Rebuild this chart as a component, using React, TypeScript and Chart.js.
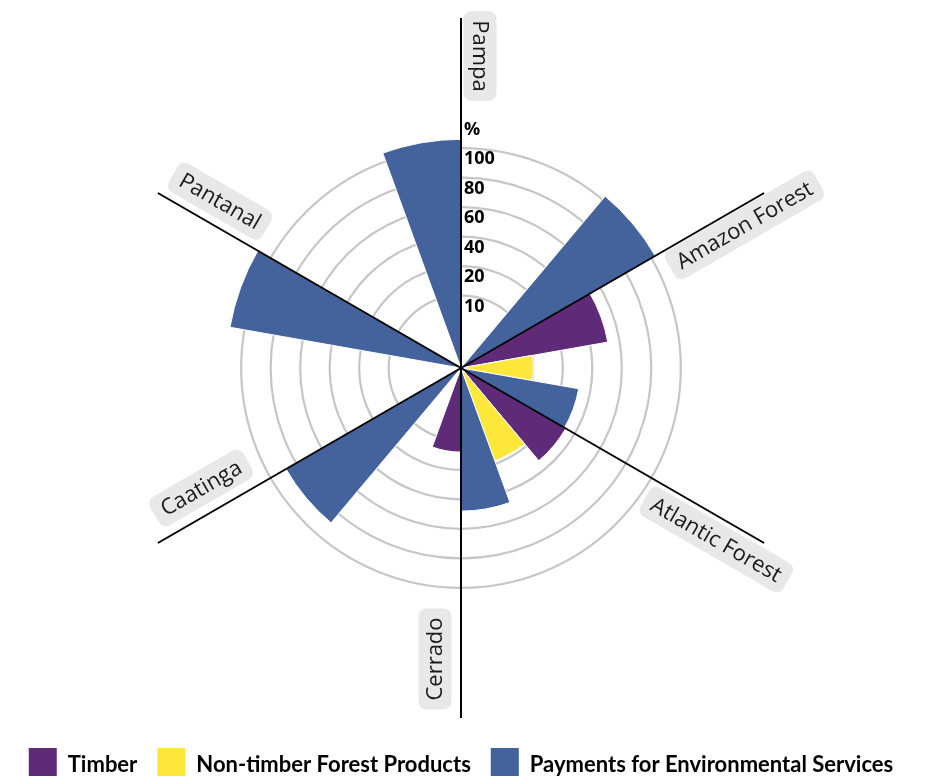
import { useEffect, useRef } from "react";
import { Chart, registerables, RadialLinearScale } from "chart.js";

// ---------- data ----------
const biomes = ["Pampa", "Amazon Forest", "Atlantic Forest", "Cerrado", "Caatinga", "Pantanal"];
const products = ["Timber", "Non-timber Forest Products", "Payments for Environmental Services"];
const timber = [0, 52, 33, 14, 0, 0];
const nonTimber = [0, 10, 19, 0, 0, 0];
const payments = [103, 32, 48, 88, 110, 106];
const tickValues = [10, 20, 40, 60, 80, 100];
const tickLabels = ["10", "20", "40", "60", "80", "100"];
const unitLabel = "%";
const unitLabelValue = 120;

// ---------- style ----------
const productColors = ["#5f2a77", "#fde73a", "#44629c"];
// piecewise radial scale (value stops -> ring units)
const VALUE_STOPS = [0, 10, 20, 40, 60, 80, 100];
const UNIT_STOPS = [0, 2.45, 3.45, 4.45, 5.45, 6.45, 7.45];
const UNIT_STEP_BEYOND = 20;
const LINE_LENGTH = 350;
const LABEL_ALONG = [312, 317, 307, 291, 285, 292];
const LABEL_PERP = [19, 18, 21, 26, 26, 24];
const LABEL_ROT = [90, -30, 30, -90, -30, 30];
const TICK_INSET = 11;

function toUnits(v: number): number {
  if (v <= 0) return 0;
  for (let i = 1; i < VALUE_STOPS.length; i++) {
    if (v <= VALUE_STOPS[i]) {
      const t = (v - VALUE_STOPS[i - 1]) / (VALUE_STOPS[i] - VALUE_STOPS[i - 1]);
      return UNIT_STOPS[i - 1] + t * (UNIT_STOPS[i] - UNIT_STOPS[i - 1]);
    }
  }
  return UNIT_STOPS[UNIT_STOPS.length - 1] + (v - VALUE_STOPS[VALUE_STOPS.length - 1]) / UNIT_STEP_BEYOND;
}

class PiecewiseRadialScale extends RadialLinearScale {
  static id = "piecewiseRadial";
  static defaults = RadialLinearScale.defaults;
  getDistanceFromCenterForValue(value: any) {
    if (value === null || value === undefined || isNaN(value)) return NaN;
    return (toUnits(value) / toUnits((this as any).max)) * (this as any).drawingArea;
  }
  getValueForDistanceFromCenter(distance: number) {
    const u = (distance / (this as any).drawingArea) * toUnits((this as any).max);
    for (let i = 1; i < UNIT_STOPS.length; i++) {
      if (u <= UNIT_STOPS[i]) {
        const t = (u - UNIT_STOPS[i - 1]) / (UNIT_STOPS[i] - UNIT_STOPS[i - 1]);
        return VALUE_STOPS[i - 1] + t * (VALUE_STOPS[i] - VALUE_STOPS[i - 1]);
      }
    }
    return VALUE_STOPS[VALUE_STOPS.length - 1] + (u - UNIT_STOPS[UNIT_STOPS.length - 1]) * UNIT_STEP_BEYOND;
  }
}

Chart.register(...registerables, PiecewiseRadialScale);

const labels = biomes.flatMap((b) => products.map((p) => `${b}: ${p}`));
const values = biomes.flatMap((_, i) => [timber[i], nonTimber[i], payments[i]]);
const colors = biomes.flatMap(() => productColors);

const decorPlugin = {
  id: "decor",
  afterDatasetsDraw(chart: any) {
    const scale = chart.scales.r;
    const ctx: CanvasRenderingContext2D = chart.ctx;
    const cx = scale.xCenter;
    const cy = scale.yCenter;
    ctx.save();

    // sector boundary lines
    ctx.strokeStyle = "#000";
    ctx.lineWidth = 2;
    biomes.forEach((_, i) => {
      const phi = scale.getIndexAngle(i * products.length) - Math.PI / 2;
      ctx.beginPath();
      ctx.moveTo(cx, cy);
      ctx.lineTo(cx + Math.cos(phi) * LINE_LENGTH, cy + Math.sin(phi) * LINE_LENGTH);
      ctx.stroke();
    });

    // tick labels
    ctx.fillStyle = "#000";
    ctx.font = "bold 18px 'Open Sans', sans-serif";
    ctx.textAlign = "left";
    ctx.textBaseline = "middle";
    tickValues.forEach((v, i) => {
      const r = scale.getDistanceFromCenterForValue(v);
      ctx.fillText(tickLabels[i], cx + 3, cy - r + TICK_INSET);
    });
    const ru = scale.getDistanceFromCenterForValue(unitLabelValue);
    ctx.fillText(unitLabel, cx + 3, cy - ru + TICK_INSET);

    // biome labels in rounded boxes
    ctx.font = "22px 'Open Sans', sans-serif";
    biomes.forEach((name, i) => {
      const phi = scale.getIndexAngle(i * products.length) - Math.PI / 2;
      const px = cx + Math.cos(phi) * LABEL_ALONG[i] - Math.sin(phi) * LABEL_PERP[i];
      const py = cy + Math.sin(phi) * LABEL_ALONG[i] + Math.cos(phi) * LABEL_PERP[i];
      const tw = ctx.measureText(name).width;
      const w = tw + 18;
      const h = 33;
      ctx.save();
      ctx.translate(px, py);
      ctx.rotate((LABEL_ROT[i] * Math.PI) / 180);
      ctx.fillStyle = "#e8e8e8";
      ctx.beginPath();
      if ((ctx as any).roundRect) (ctx as any).roundRect(-w / 2, -h / 2, w, h, 8);
      else ctx.rect(-w / 2, -h / 2, w, h);
      ctx.fill();
      ctx.fillStyle = "#1a1a1a";
      ctx.textAlign = "center";
      ctx.textBaseline = "middle";
      ctx.fillText(name, 0, 1);
      ctx.restore();
    });
    ctx.restore();
  },
};

export default function App() {
  const ref = useRef<HTMLCanvasElement>(null);
  useEffect(() => {
    const chart = new Chart(ref.current as HTMLCanvasElement, {
      type: "polarArea",
      data: {
        labels,
        datasets: [
          {
            data: values,
            backgroundColor: colors,
            borderColor: "#ffffff",
            borderWidth: 1,
          },
        ],
      },
      options: {
        animation: false,
        responsive: true,
        maintainAspectRatio: false,
        events: [],
        layout: { padding: { top: -6, right: 17, left: 0, bottom: 0 } },
        scales: {
          r: {
            type: "piecewiseRadial" as any,
            min: 0,
            max: 195,
            startAngle: 0,
            afterBuildTicks: (scale: any) => {
              scale.ticks = [0, ...tickValues].map((v) => ({ value: v }));
            },
            ticks: { display: false },
            grid: { circular: true, color: "#c6c6c6", lineWidth: 2.2 },
            angleLines: { display: false },
            pointLabels: { display: false },
          } as any,
        },
        plugins: {
          tooltip: { enabled: false },
          legend: {
            position: "bottom",
            onClick: () => {},
            labels: {
              boxWidth: 28,
              boxHeight: 34,
              padding: 20,
              color: "#111",
              font: { family: "Lato", weight: "bold", size: 22 },
              generateLabels: () =>
                products.map((p, i) => ({
                  text: p,
                  fillStyle: productColors[i],
                  strokeStyle: productColors[i],
                  lineWidth: 0,
                  hidden: false,
                  index: i,
                })),
            },
          },
        },
      },
      plugins: [decorPlugin],
    });
    return () => chart.destroy();
  }, []);
  return (
    <div style={{ position: "relative", width: 923, height: 784 }}>
      <canvas ref={ref} />
    </div>
  );
}
